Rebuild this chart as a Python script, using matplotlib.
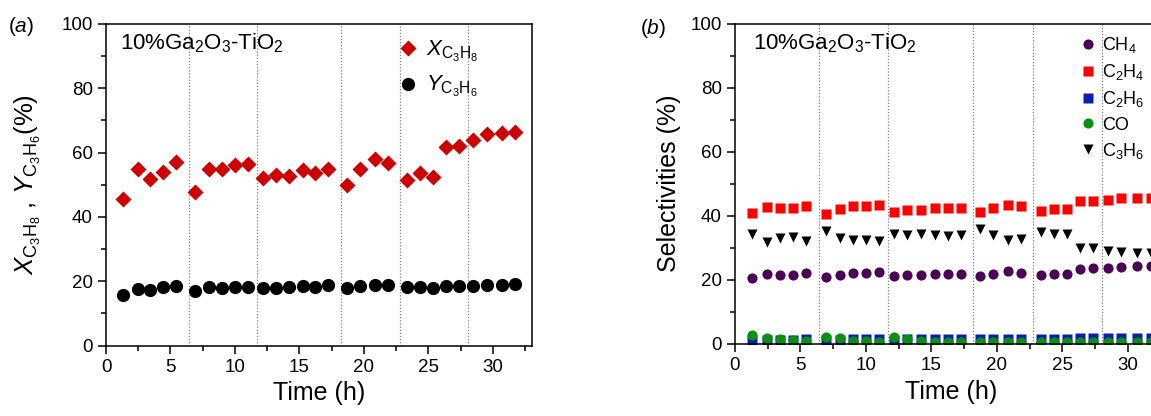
import matplotlib
matplotlib.use('Agg')
import matplotlib.pyplot as plt
from matplotlib.ticker import MultipleLocator

plt.rcParams['font.family'] = ['Liberation Sans', 'DejaVu Sans']
plt.rcParams['mathtext.fontset'] = 'custom'
plt.rcParams['mathtext.rm'] = 'Liberation Sans'
plt.rcParams['mathtext.it'] = 'Liberation Sans:italic'
plt.rcParams['mathtext.bf'] = 'Liberation Sans:bold'

# time on stream (h)
time_h = [1.3, 2.45, 3.45, 4.45, 5.46, 6.93, 7.99, 8.99, 10.0, 10.98,
          12.16, 13.16, 14.2, 15.26, 16.24, 17.24, 18.71, 19.71, 20.86, 21.87,
          23.36, 24.34, 25.34, 26.35, 27.36, 28.5, 29.51, 30.72, 31.75]

# regeneration points (dotted lines)
regen_h = [6.45, 11.7, 18.2, 22.8, 28.05]

# panel a
x_c3h8 = [45.5, 55.0, 51.9, 54.1, 57.2, 47.6, 55.0, 55.0, 56.1, 56.3,
          52.0, 52.9, 52.6, 54.6, 53.8, 54.8, 50.0, 54.9, 57.9, 56.9,
          51.6, 53.6, 52.5, 61.7, 62.1, 63.8, 65.8, 66.0, 66.4]
y_c3h6 = [15.7, 17.6, 17.3, 18.1, 18.5, 17.0, 18.2, 18.0, 18.3, 18.2,
          18.0, 18.0, 18.1, 18.5, 18.1, 18.75, 18.0, 18.6, 18.85, 18.75,
          18.1, 18.3, 18.0, 18.5, 18.5, 18.6, 18.85, 18.75, 19.0]

# panel b selectivities (%)
s_ch4 = [20.6, 21.8, 21.5, 21.6, 22.2, 20.8, 21.6, 22.0, 22.1, 22.4,
         21.2, 21.5, 21.6, 21.8, 21.9, 21.8, 21.1, 21.9, 22.8, 22.3,
         21.5, 21.8, 21.9, 23.3, 23.6, 23.8, 24.1, 24.2, 24.2]
s_c2h4 = [41.0, 42.9, 42.4, 42.4, 43.2, 40.5, 42.0, 43.1, 43.0, 43.3,
          41.1, 41.8, 41.9, 42.3, 42.5, 42.3, 41.2, 42.3, 43.3, 43.1,
          41.6, 42.2, 42.2, 44.5, 44.5, 45.0, 45.4, 45.6, 45.5]
s_c2h6 = [1.3, 1.3, 1.4, 1.4, 1.5, 1.4, 1.4, 1.5, 1.5, 1.5,
          1.4, 1.5, 1.5, 1.5, 1.5, 1.5, 1.6, 1.6, 1.6, 1.6,
          1.5, 1.5, 1.5, 2.0, 2.0, 2.0, 2.0, 2.0, 2.0]
s_co = [2.8, 1.9, 1.5, 1.25, 1.0, 2.1, 1.9, 1.0, 0.8, 0.6,
        2.1, 1.5, 0.8, 0.7, 0.6, 0.6, 0.6, 0.6, 0.5, 0.5,
        0.5, 0.5, 0.5, 0.5, 0.5, 0.5, 0.5, 0.5, 0.5]
s_c3h6 = [34.2, 31.9, 33.0, 33.4, 32.2, 35.3, 33.0, 32.5, 32.5, 32.2,
          34.2, 33.9, 34.4, 33.9, 33.7, 34.0, 35.8, 33.9, 32.4, 32.9,
          34.8, 34.2, 34.2, 30.1, 29.9, 29.0, 28.7, 28.3, 28.3]

W, H = 1151, 416
fig = plt.figure(figsize=(W / 100, H / 100), dpi=100)
ax1 = fig.add_axes([106 / W, 1 - 345.5 / H, 425.5 / W, 321.5 / H])
ax2 = fig.add_axes([735 / W, 1 - 344 / H, 432 / W, 320.5 / H])


def style(ax):
    ax.set_xlim(0, 33)
    ax.set_ylim(0, 100)
    ax.xaxis.set_major_locator(MultipleLocator(5))
    ax.xaxis.set_minor_locator(MultipleLocator(2.5))
    ax.yaxis.set_major_locator(MultipleLocator(20))
    ax.yaxis.set_minor_locator(MultipleLocator(10))
    ax.tick_params(which='both', direction='out', labelsize=13.5, width=1.1)
    ax.tick_params(which='major', length=6)
    ax.tick_params(which='minor', length=3.5)
    for sp in ax.spines.values():
        sp.set_linewidth(1.1)
    for t in regen_h:
        ax.axvline(t, color='#808080', lw=0.9, ls=(0, (1, 1.5)), zorder=0)
    ax.set_xlabel('Time (h)', fontsize=18, labelpad=4)


style(ax1)
style(ax2)

# panel a
ax1.plot(time_h, x_c3h8, 'D', color='#CC0000', ms=8.5, mec='none',
         label=r'$X_{\mathrm{C_3H_8}}$')
ax1.plot(time_h, y_c3h6, 'o', color='black', ms=9.5, mec='none',
         label=r'$Y_{\mathrm{C_3H_6}}$')
ax1.set_ylabel(r'$X_{\mathrm{C_3H_8}}$ , $Y_{\mathrm{C_3H_6}}$(%)', fontsize=18.5)
ax1.yaxis.set_label_coords(-0.148, 0.5)
ax1.text(0.033, 0.94, r'10%Ga$_2$O$_3$-TiO$_2$', transform=ax1.transAxes,
         fontsize=16, va='center', ha='left')
ax1.legend(loc='upper left', bbox_to_anchor=(0.64, 1.008), frameon=False,
           fontsize=16, handletextpad=0.25, labelspacing=0.45,
           handlelength=1.1, borderpad=0.3)
fig.text(8 / W, 1 - 26 / H, r'($\mathit{a}$)', fontsize=15, va='center', ha='left')

# panel b
ax2.plot(time_h, s_ch4, 'o', color='#4B0055', ms=7.3, mec='none', label=r'CH$_4$')
ax2.plot(time_h, s_c2h4, 's', color='#FF0000', ms=6.8, mec='none', label=r'C$_2$H$_4$')
ax2.plot(time_h, s_c2h6, 's', color='#0A1EB4', ms=6.8, mec='none', label=r'C$_2$H$_6$')
ax2.plot(time_h, s_co, 'o', color='#0A9010', ms=7.3, mec='none', label='CO')
ax2.plot(time_h, s_c3h6, 'v', color='black', ms=7.5, mec='none', label=r'C$_3$H$_6$')
ax2.set_ylabel('Selectivities (%)', fontsize=18)
ax2.yaxis.set_label_coords(-0.125, 0.5)
ax2.text(0.042, 0.94, r'10%Ga$_2$O$_3$-TiO$_2$', transform=ax2.transAxes,
         fontsize=16, va='center', ha='left')
ax2.legend(loc='upper left', bbox_to_anchor=(1066 / W, 1 - 24 / H),
           bbox_transform=fig.transFigure, frameon=False,
           fontsize=13, handletextpad=0.2, labelspacing=0.4,
           handlelength=1.2, borderpad=0.1)
fig.text(640 / W, 1 - 29 / H, r'($\mathit{b}$)', fontsize=15, va='center', ha='left')

fig.savefig('out.png', dpi=100)
